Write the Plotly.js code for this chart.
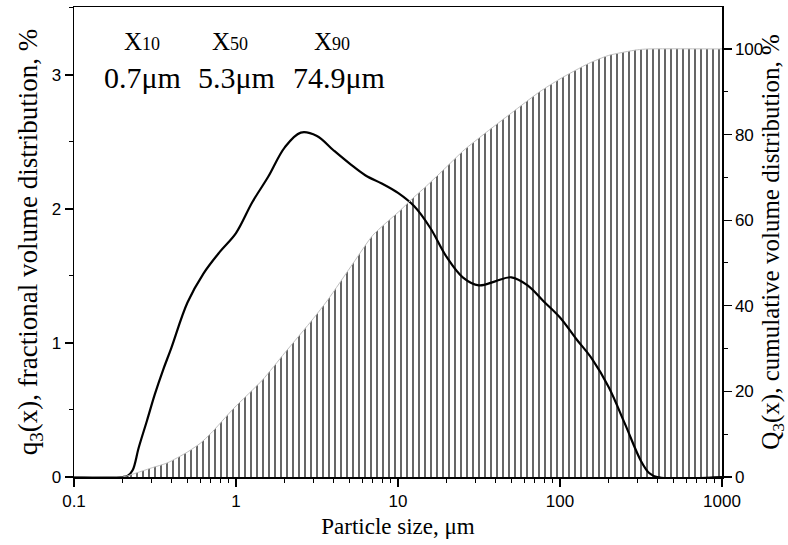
<!DOCTYPE html>
<html><head><meta charset="utf-8">
<script src="https://cdn.plot.ly/plotly-3.0.1.min.js"></script>
<style>body{margin:0;background:#fff}</style></head>
<body><div id="chart" style="width:788px;height:545px"></div>
<script>
// Fractional volume distribution q3(x), %
const sizeQ3 = [0.1, 0.2, 0.215, 0.23, 0.251, 0.282, 0.316, 0.355, 0.398, 0.501, 0.631, 0.794, 1, 1.26, 1.58, 2.0, 2.51, 3.16, 3.98, 5.01, 6.31, 7.94, 10, 12.6, 15.8, 20, 25.1, 31.6, 39.8, 50.1, 63.1, 79.4, 100, 126, 158, 200, 251, 316, 355, 398, 1000];
const q3 = [0, 0, 0.01, 0.05, 0.22, 0.42, 0.62, 0.80, 0.96, 1.30, 1.52, 1.68, 1.82, 2.05, 2.24, 2.46, 2.57, 2.545, 2.44, 2.34, 2.25, 2.19, 2.12, 2.02, 1.86, 1.64, 1.49, 1.43, 1.46, 1.49, 1.43, 1.31, 1.19, 1.03, 0.88, 0.67, 0.40, 0.12, 0.03, 0, 0];
// Cumulative volume distribution Q3(x), %
const sizeCum = [0.1, 0.2, 0.232, 0.3, 0.377, 0.5, 0.603, 0.7, 0.966, 1.46, 2, 3, 3.69, 5.3, 7, 10.4, 12, 15, 20, 25.6, 35, 50, 74.9, 100, 150, 200, 300, 350, 1000];
const cumQ3 = [0, 0, 0.7, 2.1, 3.3, 5.8, 7.9, 10.2, 16, 22.7, 29, 37, 41.4, 50, 56.5, 62.4, 64.7, 68, 72.5, 76.4, 80.5, 85, 90, 93, 96.6, 98.5, 99.8, 100, 100];
// Characteristic sizes
const charLabels = ["10", "50", "90"];
const charValues = ["0.7μm", "5.3μm", "74.9μm"];
const xTicks = [0.1, 1, 10, 100, 1000];
const xTickText = ["0.1", "1", "10", "100", "1000"];

const serif = "Liberation Serif, Times New Roman, serif";
const sans = "Liberation Sans, Arial, sans-serif";

const traces = [
  {
    x: sizeCum, y: cumQ3, yaxis: 'y2', type: 'scatter', mode: 'lines',
    line: {color: '#c0c0c0', width: 1, shape: 'spline', smoothing: 0.6},
    fill: 'tozeroy', fillcolor: 'rgba(255,255,255,0)',
    fillpattern: {shape: '|', size: 6, solidity: 0.2, fgcolor: '#000', bgcolor: 'rgba(255,255,255,0)'},
    hoverinfo: 'skip', showlegend: false
  },
  {
    x: sizeQ3, y: q3, type: 'scatter', mode: 'lines',
    line: {color: '#000', width: 2.2, shape: 'spline', smoothing: 1},
    showlegend: false
  }
];

const labelX = [0.105, 0.241, 0.398];
const valueX = [0.105, 0.25, 0.409];
const annotations = [];
charLabels.forEach((l, i) => {
  annotations.push({
    xref: 'paper', yref: 'paper', x: labelX[i], y: 0.926, showarrow: false,
    text: "X<span style='font-size:18px'>" + l + "</span>",
    font: {family: serif, size: 25, color: '#000'}, xanchor: 'center', yanchor: 'middle'
  });
  annotations.push({
    xref: 'paper', yref: 'paper', x: valueX[i], y: 0.851, showarrow: false,
    text: charValues[i],
    font: {family: serif, size: 30, color: '#000'}, xanchor: 'center', yanchor: 'middle'
  });
});

const layout = {
  width: 788, height: 545,
  margin: {l: 74, r: 66, t: 7, b: 68},
  paper_bgcolor: '#fff', plot_bgcolor: '#fff',
  showlegend: false,
  xaxis: {
    type: 'log', range: [-1, 3],
    tickvals: xTicks, ticktext: xTickText,
    ticks: 'outside', ticklen: 8, tickwidth: 1.3, tickcolor: '#000',
    minor: {ticks: 'outside', ticklen: 4, tickwidth: 1, tickcolor: '#000', dtick: 'D1', showgrid: false},
    showline: true, linecolor: '#000', linewidth: 1.5, mirror: true,
    showgrid: false, zeroline: false,
    tickfont: {family: sans, size: 17, color: '#000'},
    title: {text: 'Particle size, μm', font: {family: serif, size: 23, color: '#000'}, standoff: 8}
  },
  yaxis: {
    range: [0, 3.507], tickvals: [0, 1, 2, 3],
    ticks: 'outside', ticklen: 8, tickwidth: 1.3, tickcolor: '#000',
    minor: {ticks: 'outside', ticklen: 4, tickwidth: 1, tickcolor: '#000', dtick: 0.5, showgrid: false},
    showline: true, linecolor: '#000', linewidth: 1.5,
    showgrid: false, zeroline: false,
    tickfont: {family: sans, size: 17, color: '#000'},
    title: {text: 'q<sub>3</sub>(x), fractional volume distribution, %', font: {family: serif, size: 27, color: '#000'}, standoff: 6}
  },
  yaxis2: {
    overlaying: 'y', side: 'right',
    range: [0, 109.8], tickvals: [0, 20, 40, 60, 80, 100],
    ticks: 'outside', ticklen: 8, tickwidth: 1.3, tickcolor: '#000',
    minor: {ticks: 'outside', ticklen: 4, tickwidth: 1, tickcolor: '#000', dtick: 10, showgrid: false},
    showline: true, linecolor: '#000', linewidth: 1.5,
    showgrid: false, zeroline: false,
    tickfont: {family: sans, size: 17, color: '#000'},
    title: {text: 'Q<sub>3</sub>(x), cumulative volume distribution, %', font: {family: serif, size: 25, color: '#000'}, standoff: 0}
  },
  annotations: annotations
};

Plotly.newPlot('chart', traces, layout, {displayModeBar: false, staticPlot: true});
</script>
</body></html>
